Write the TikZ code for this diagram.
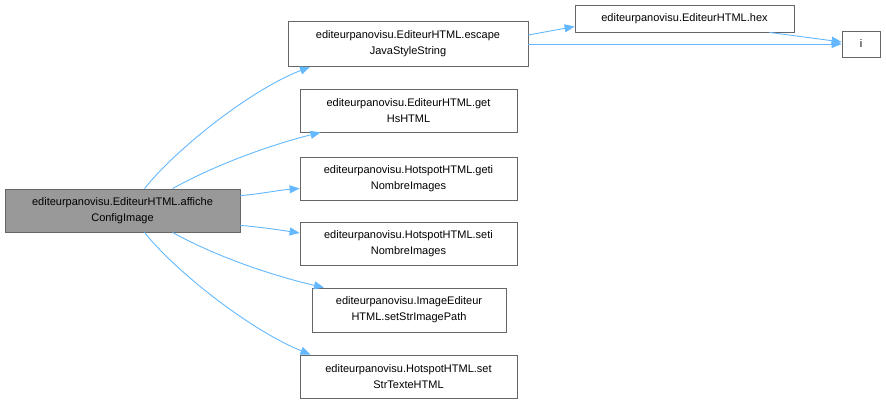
\documentclass[tikz,border=0pt]{standalone}
\usepackage{fontspec}
\setmainfont{Liberation Sans}
\usetikzlibrary{arrows.meta}
\definecolor{edgeblue}{HTML}{63B8FF}
\definecolor{boxborder}{HTML}{666666}
\definecolor{mainfill}{HTML}{999999}
\begin{document}
\begin{tikzpicture}[x=1pt,y=-1pt,
  fn/.style={draw=boxborder,line width=0.8pt,fill=white,inner sep=0pt,align=center,
    font=\fontsize{11}{16}\selectfont},
  mainbox/.style={fn,fill=mainfill},
  call/.style={draw=edgeblue,line width=0.9pt,-{Triangle[length=10pt,width=8pt]}}]
\useasboundingbox (0,0) rectangle (886,404);
\node[mainbox,minimum width=235pt,minimum height=43pt] (main) at (122.5,210.5) {editeurpanovisu.EditeurHTML.affiche\\ConfigImage};
\node[fn,minimum width=240pt,minimum height=45pt] (esc) at (408,44) {editeurpanovisu.EditeurHTML.escape\\JavaStyleString};
\node[fn,minimum width=219pt,minimum height=27pt] (hex) at (684.5,18.5) {editeurpanovisu.EditeurHTML.hex};
\node[fn,minimum width=38pt,minimum height=26pt] (i) at (861,44) {i};
\node[fn,minimum width=217pt,minimum height=43pt] (geths) at (408.5,110.5) {editeurpanovisu.EditeurHTML.get\\HsHTML};
\node[fn,minimum width=217pt,minimum height=43pt] (geti) at (408.5,178.5) {editeurpanovisu.HotspotHTML.geti\\NombreImages};
\node[fn,minimum width=217pt,minimum height=43pt] (seti) at (408.5,244) {editeurpanovisu.HotspotHTML.seti\\NombreImages};
\node[fn,minimum width=194pt,minimum height=44pt] (path) at (409,310) {editeurpanovisu.ImageEditeur\\HTML.setStrImagePath};
\node[fn,minimum width=217pt,minimum height=43pt] (texte) at (408.5,376.5) {editeurpanovisu.HotspotHTML.set\\StrTexteHTML};
\draw[call] ([xshift=22pt]main.north) .. controls (175,150) and (250,90) .. ([xshift=-98pt]esc.south);
\draw[call] ([xshift=50pt]main.north) .. controls (215,165) and (270,145) .. ([xshift=-88pt]geths.south);
\draw[call] ([yshift=-7pt]main.north east) .. controls (260,194) and (280,190) .. ([yshift=-10pt]geti.west);
\draw[call] ([yshift=7pt]main.south east) .. controls (260,227) and (280,230) .. ([yshift=11pt]seti.west);
\draw[call] ([xshift=50pt]main.south) .. controls (215,256) and (270,275) .. ([xshift=-85pt]path.north);
\draw[call] ([xshift=22pt]main.south) .. controls (175,271) and (250,330) .. ([xshift=-98pt]texte.north);
\draw[call] ([yshift=9pt]esc.east) -- ([yshift=-8pt]hex.west);
\draw[call] (esc.east) -- (i.west);
\draw[call] ([xshift=85pt]hex.south) -- ([yshift=2pt]i.west);
\end{tikzpicture}
\end{document}
